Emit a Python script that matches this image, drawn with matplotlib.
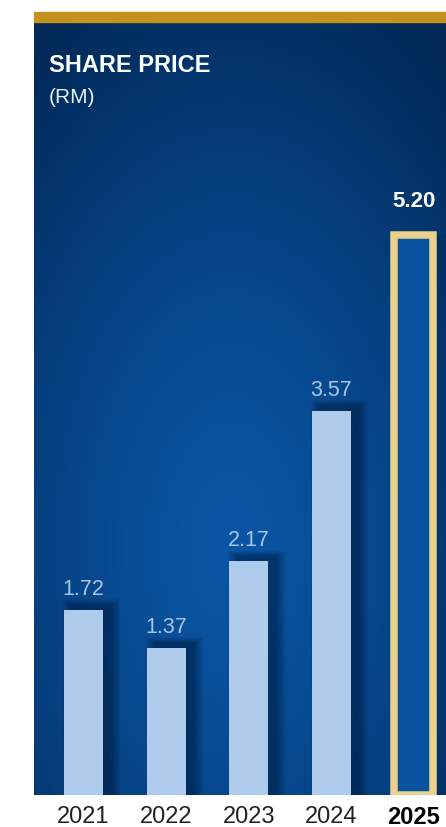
import numpy as np
import matplotlib
matplotlib.use("Agg")
import matplotlib.pyplot as plt
from matplotlib.colors import to_rgb

plt.rcParams['font.family'] = ['Liberation Sans', 'DejaVu Sans']

# data
years = ['2021', '2022', '2023', '2024', '2025']
prices = [1.72, 1.37, 2.17, 3.57, 5.20]
labels = ['1.72', '1.37', '2.17', '3.57', '5.20']

W, H = 446, 828
fig = plt.figure(figsize=(W / 100, H / 100), dpi=100)
fig.patch.set_facecolor('white')

# panel axes (pixel box -> figure fraction)
px0, py0, px1, py1 = 34, 23, 446, 796
ax = fig.add_axes([px0 / W, 1 - py1 / H, (px1 - px0) / W, (py1 - py0) / H])

# gold strip on top of the panel
fig.patches.append(plt.Rectangle((px0 / W, 1 - 23 / H), (W - px0) / W, 10 / H,
                                 transform=fig.transFigure, color='#c3921f', zorder=5))

# radial-ish blue background
gw, gh = 412, 773
u = np.linspace(0, 1, gw)[None, :]
v = np.linspace(0, 1, gh)[:, None]   # 0 = top
d = np.sqrt(((u - 0.48) / 0.85) ** 2 + ((v - 0.68) / 0.8) ** 2)
d = np.clip(d, 0, 1) ** 1.3
c_in = np.array(to_rgb('#0a56a5'))
c_out = np.array(to_rgb('#012856'))
img = c_in[None, None, :] * (1 - d[..., None]) + c_out[None, None, :] * d[..., None]

ymax = 7.18
xmin, xmax = -0.6, 4.39
ax.imshow(img, extent=[xmin, xmax, 0, ymax], aspect='auto', zorder=0, interpolation='bilinear')
ax.set_xlim(xmin, xmax)
ax.set_ylim(0, ymax)

x = np.arange(len(years))
bw = 0.47
light = x[:-1]
lp = np.array(prices[:-1])

# soft shadows to the right of the light bars
for k in range(8):
    s = 0.016 * k
    ax.bar(light + 0.1, lp + 0.04 + s * 0.5, width=bw + 2 * s, color='#021a3c',
           alpha=0.085, zorder=2, linewidth=0)
ax.bar(x[-1] + 0.08, prices[-1], width=bw + 0.16, color='#021a3c', alpha=0.15,
       zorder=2, linewidth=0)

ax.bar(light, lp, width=bw, color='#aecbec', zorder=3, linewidth=0)
ax.bar(x[-1], prices[-1], width=bw, color='#0852a0', edgecolor='#ecd08e',
       linewidth=5.4, zorder=3)

for i in range(len(years)):
    if i < len(years) - 1:
        ax.annotate(labels[i], (x[i], prices[i]), xytext=(0, 11.5), textcoords='offset points',
                    ha='center', va='baseline', fontsize=15.5, color='#a7c6ea', zorder=4)
    else:
        ax.annotate(labels[i], (x[i], prices[i]), xytext=(0, 21), textcoords='offset points',
                    ha='center', va='baseline', fontsize=16, color='white',
                    fontweight='bold', zorder=4)

ax.set_xticks(x)
ax.set_xticklabels(years, fontsize=17, color='#222222')
ax.get_xticklabels()[-1].set_fontweight('bold')
ax.get_xticklabels()[-1].set_color('black')
ax.tick_params(axis='x', length=0, pad=7)
ax.set_yticks([])
for sp in ax.spines.values():
    sp.set_visible(False)

fig.text(49 / W, 1 - 72 / H, 'SHARE PRICE', fontsize=17, fontweight='bold', color='white',
         ha='left', va='baseline')
fig.text(49 / W, 1 - 103 / H, '(RM)', fontsize=15, color='#e8eef6',
         ha='left', va='baseline')

fig.savefig('out.png', dpi=100)
